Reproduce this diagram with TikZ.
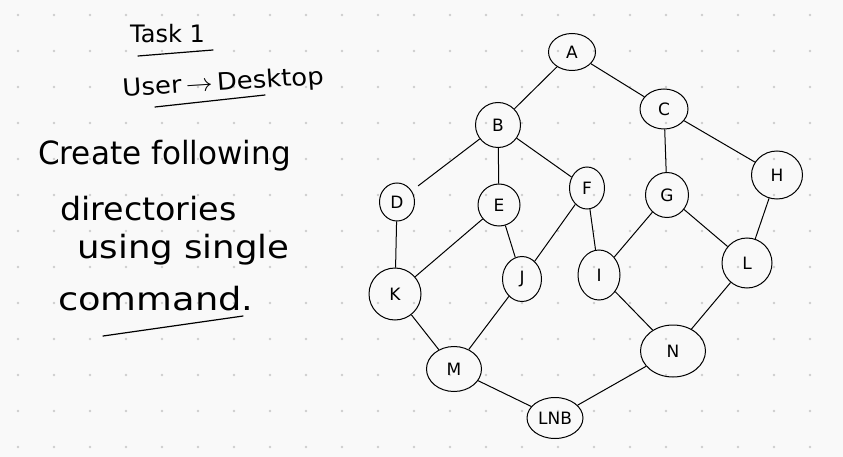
\documentclass[tikz,border=0pt]{standalone}
\usepackage{fontspec}
\setmainfont{DejaVu Sans}
\usetikzlibrary{shapes.geometric}
\definecolor{bg}{RGB}{249,249,249}
\definecolor{dotc}{RGB}{205,205,205}
\begin{document}
\begin{tikzpicture}[x=1pt,y=-1pt,
  nd/.style={ellipse, draw, line width=1pt, inner sep=0pt, font=\fontsize{17}{17}\selectfont},
  ed/.style={line width=1pt},
  hand/.style={anchor=base west, inner sep=0pt, font=\fontsize{32}{32}\selectfont},
  uline/.style={line width=1.2pt, line cap=round}]
\fill[bg] (0,0) rectangle (843,457);
\useasboundingbox (0,0) rectangle (843,457);
% dot grid
\foreach \i in {0,...,22}{\foreach \j in {0,...,12}{
  \fill[dotc] (18+36*\i,15+36*\j) circle (1.3pt);}}
% text
\node[hand, font=\fontsize{24}{24}\selectfont] (t1) at (130,43) {Task 1};
\coordinate (u1a) at (138,56); \coordinate (u1b) at (213,50);
\draw[uline] (u1a) -- (u1b);
\node[hand, font=\fontsize{24}{24}\selectfont, xscale=1.08, rotate=4] (t2) at (123,97) {User\,$\rightarrow$\,Desktop};
\coordinate (u2a) at (155,107); \coordinate (u2b) at (265,95);
\draw[uline] (u2a) -- (u2b);
\node[hand, xscale=0.97] (t3) at (38,165) {Create following};
\node[hand, xscale=1.04] (t4) at (60,220) {directories};
\node[hand, xscale=1.11] (t5) at (77,258) {using single};
\node[hand, xscale=1.15] (t6) at (58,310) {command.};
\coordinate (u3a) at (103,336); \coordinate (u3b) at (243,316);
\draw[uline] (u3a) -- (u3b);
% nodes
\node[nd, minimum width=47pt, minimum height=37pt] (A) at (572,52) {A};
\node[nd, minimum width=45pt, minimum height=45pt] (B) at (498,125) {B};
\node[nd, minimum width=48pt, minimum height=40pt] (C) at (664,109) {C};
\node[nd, minimum width=35pt, minimum height=38pt] (D) at (397,202) {D};
\node[nd, minimum width=42pt, minimum height=42pt] (E) at (499,205) {E};
\node[nd, minimum width=35pt, minimum height=42pt] (F) at (587,188) {F};
\node[nd, minimum width=43pt, minimum height=45pt] (G) at (667,195) {G};
\node[nd, minimum width=51pt, minimum height=48pt] (H) at (777,175) {H};
\node[nd, minimum width=42pt, minimum height=50pt] (I) at (599,275) {I};
\node[nd, minimum width=39pt, minimum height=45pt] (J) at (522,279) {J};
\node[nd, minimum width=52pt, minimum height=52pt] (K) at (395,294) {K};
\node[nd, minimum width=50pt, minimum height=50pt] (L) at (747,263) {L};
\node[nd, minimum width=55pt, minimum height=45pt] (M) at (454,369) {M};
\node[nd, minimum width=65pt, minimum height=52pt] (N) at (673,351) {N};
\node[nd, minimum width=56pt, minimum height=41pt] (LNB) at (555,418) {LNB};
% edges
\draw[ed] (A) -- (B);
\draw[ed] (A) -- (C);
\draw[ed, shorten >=8pt] (B) -- (D);
\draw[ed] (B) -- (E);
\draw[ed] (B) -- (F);
\draw[ed] (C) -- (G);
\draw[ed] (C) -- (H);
\draw[ed] (D) -- (K);
\draw[ed] (E) -- (K);
\draw[ed] (E) -- (J);
\draw[ed] (F) -- (J);
\draw[ed] (F) -- (I);
\draw[ed] (G) -- (I);
\draw[ed] (G) -- (L);
\draw[ed] (H) -- (L);
\draw[ed] (K) -- (M);
\draw[ed] (J) -- (M);
\draw[ed] (I) -- (N);
\draw[ed] (L) -- (N);
\draw[ed] (M) -- (LNB);
\draw[ed] (N) -- (LNB);
\end{tikzpicture}
\end{document}
